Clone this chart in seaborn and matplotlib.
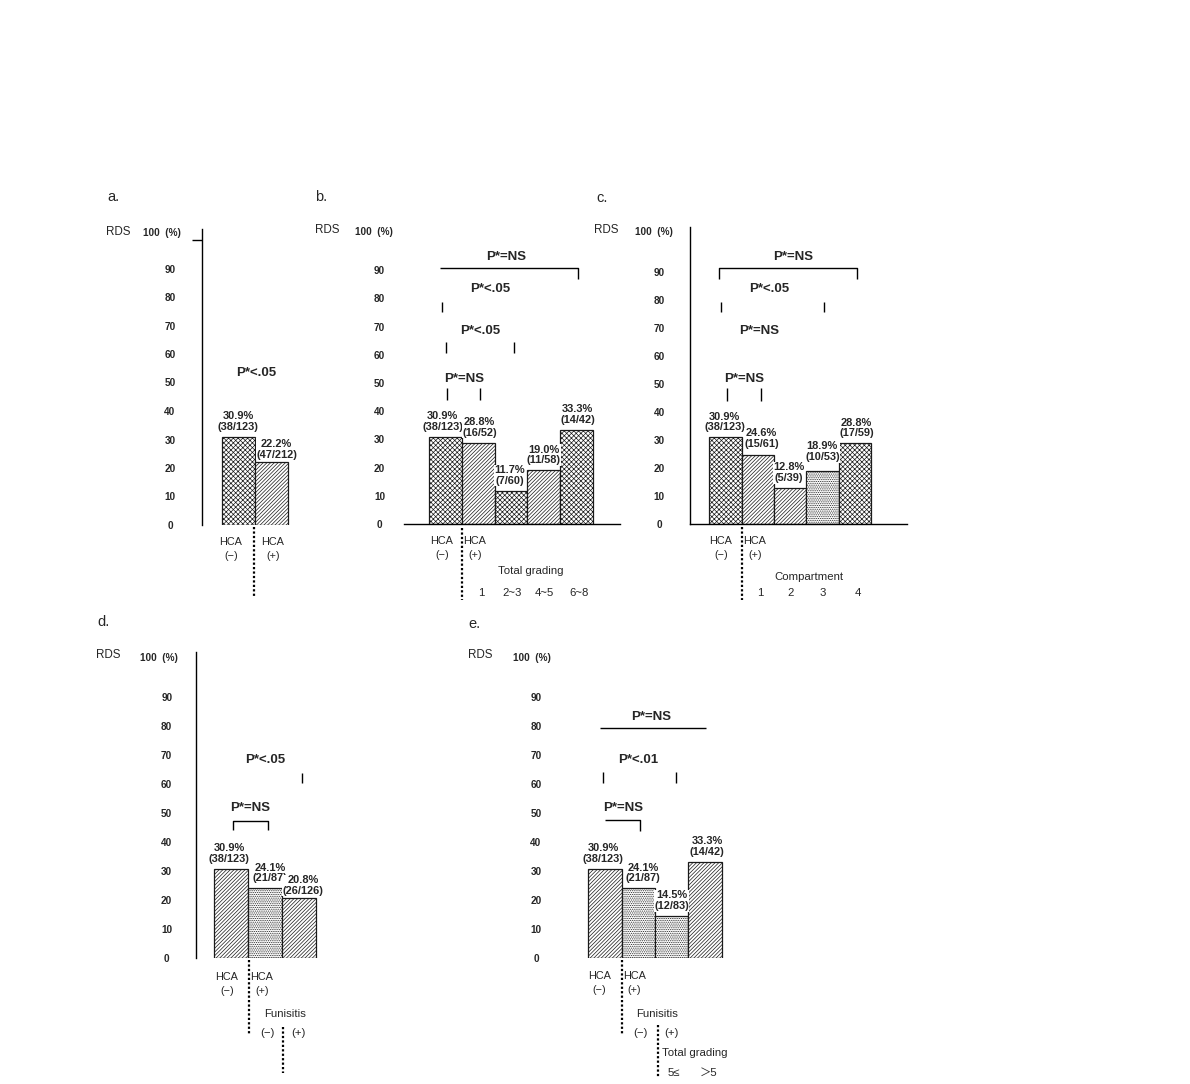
import matplotlib
matplotlib.use("Agg")
import matplotlib.pyplot as plt
import seaborn as sns
import pandas as pd

# ---------------- data ----------------
a_cats = ["HCA(−)", "HCA(+)"]
a_vals = [30.9, 22.2]
a_counts = ["38/123", "47/212"]

b_cats = ["HCA(−)", "1", "2~3", "4~5", "6~8"]
b_vals = [30.9, 28.8, 11.7, 19.0, 33.3]
b_counts = ["38/123", "16/52", "7/60", "11/58", "14/42"]

c_cats = ["HCA(−)", "1", "2", "3", "4"]
c_vals = [30.9, 24.6, 12.8, 18.9, 28.8]
c_counts = ["38/123", "15/61", "5/39", "10/53", "17/59"]

d_cats = ["HCA(−)", "Funisitis(−)", "Funisitis(+)"]
d_vals = [30.9, 24.1, 20.8]
d_counts = ["38/123", "21/87", "26/126"]

e_cats = ["HCA(−)", "Funisitis(−)", "5≤", "＞5"]
e_vals = [30.9, 24.1, 14.5, 33.3]
e_counts = ["38/123", "21/87", "12/83", "14/42"]

y_ticks = [0, 10, 20, 30, 40, 50, 60, 70, 80, 90]
y_ticklabels = ["0", "10", "20", "30", "40", "50", "60", "70", "80", "90"]

b_group_labels = ["1", "2~3", "4~5", "6~8"]
c_group_labels = ["1", "2", "3", "4"]
e_group_labels = ["5≤", "＞5"]

# ---------------- style ----------------
sns.set_style("white")
plt.rcParams["font.family"] = ["Liberation Sans", "DejaVu Sans", "Noto Sans CJK JP"]
plt.rcParams["hatch.linewidth"] = 0.5

W, H = 1190, 1084
PT = 72.0 / 100.0  # px -> points
fig = plt.figure(figsize=(W / 100, H / 100), dpi=100)
fig.patch.set_facecolor("white")

HX = "xxxxxxx"
HD = "/////////"
HP = "........."


def panel(cats, vals, counts, geom, hatches, dxs, dys, minor, show_left,
          show_bottom, tick_dir, pad_px):
    axl, axr, zero, scale, ytop, bl, bw = geom
    ax = fig.add_axes([axl / W, 1 - zero / H, (axr - axl) / W, ytop * scale / H])
    ax.set_facecolor("none")
    df = pd.DataFrame({"cat": cats, "val": vals})
    sns.barplot(data=df, x="cat", y="val", order=cats, ax=ax, width=1.0,
                color="white", saturation=1, edgecolor="#1a1a1a",
                linewidth=0.9, errorbar=None, zorder=2)
    for p, h in zip(ax.patches, hatches):
        p.set_hatch(h)
    ax.set_xlim(-0.5 - (bl - axl) / bw, -0.5 + (axr - bl) / bw)
    ax.set_ylim(0, ytop)
    ax.set_xlabel("")
    ax.set_ylabel("")
    ax.set_xticks([])
    for s in ["top", "right"]:
        ax.spines[s].set_visible(False)
    ax.spines["left"].set_visible(show_left)
    ax.spines["bottom"].set_visible(show_bottom)
    for s in ["left", "bottom"]:
        ax.spines[s].set_color("black")
        ax.spines[s].set_linewidth(1.0)
    ax.set_yticks(y_ticks)
    ax.set_yticklabels(y_ticklabels, fontsize=7.2, fontweight="bold")
    for lab in ax.get_yticklabels():
        lab.set_horizontalalignment("center")
    ax.tick_params(axis="y", which="major", length=0, pad=pad_px * PT, left=True)
    ax.set_yticks(minor, minor=True)
    ax.tick_params(axis="y", which="minor", length=7, width=1.0,
                   direction=tick_dir, color="black", left=True)
    for i, (v, c) in enumerate(zip(vals, counts)):
        ax.annotate(f"{v:.1f}%\n({c})", xy=(i, v),
                    xytext=(dxs[i] * PT, (5 + dys[i]) * PT),
                    textcoords="offset points", ha="center", va="bottom",
                    fontsize=7.9, fontweight="bold", linespacing=1.1,
                    bbox=dict(fc="white", ec="none", pad=0.3), zorder=3,
                    annotation_clip=False)
    return ax


# geometry: axis-left px, axis-right px, zero px, px per %, ylim top, first-bar-left px, bar width px
panel(a_cats, a_vals, a_counts, (202, 300, 525, 2.85, 104, 221.7, 33.3),
      [HX, HD], [0, 5], [0, -3], [10, 20, 30, 40, 50, 80, 90, 100],
      True, False, "out", 32)
panel(b_cats, b_vals, b_counts, (404, 620, 524, 2.82, 100, 429.3, 32.7),
      [HX, HD, HX, HD, HX], [-3, 1, -1, 0, 1],
      [0, 0, 0, 0, 0], [10, 20, 30, 50, 60, 70, 90], False, True, "in", 24.5)
panel(c_cats, c_vals, c_counts, (690, 907, 524, 2.8, 106, 709.3, 32.3),
      [HX, HD, HD, HP, HX], [-1, 4, -1, 0, 2],
      [0, 1, 0, 4, 0], [10, 20, 50, 60, 70, 90], True, True, "out", 30.7)
panel(d_cats, d_vals, d_counts, (196, 320, 958.3, 2.9, 105.7, 214.3, 33.9),
      [HD, HP, HD], [-2, 5, 4], [0, 0, -3],
      [10, 20, 30, 40, 50, 60, 70, 80, 90], True, False, "out", 29.3)
panel(e_cats, e_vals, e_counts, (561.7, 730, 958.3, 2.9, 100, 588.3, 33.35),
      [HD, HP, HP, HD], [-2, 4.6, 0, 2], [0, 0, 0, 0],
      [30, 50, 60, 70, 80, 90], False, False, "in", 25.7)

# ---------------- overlay annotations (pixel coordinates) ----------------
ov = fig.add_axes([0, 0, 1, 1])
ov.set_xlim(0, W)
ov.set_ylim(H, 0)
ov.axis("off")


def T(x, y, s, size=7.8, weight="normal", ha="center"):
    ov.text(x, y, s, fontsize=size, fontweight=weight, ha=ha, va="center")


def L(xs, ys, lw=1.0):
    ov.plot(xs, ys, color="black", lw=lw, solid_capstyle="butt")


def DOT(x, y0, y1):
    ov.plot([x, x], [y0, y1], color="black", lw=1.6, linestyle=(0, (1, 1)))


def P(x, y, s):
    T(x, y, s, size=9.5, weight="bold")


def HCA(xm, xp, y):
    T(xm, y, "HCA")
    T(xm, y + 14, "(−)")
    T(xp, y, "HCA")
    T(xp, y + 14, "(+)")


# panel a
T(107, 197, "a.", size=10.5, ha="left")
T(106, 232, "RDS", size=8.4, ha="left")
T(162, 233, "100  (%)", size=7.2, weight="bold")
P(256, 373, "P*<.05")
HCA(231, 273, 542)
DOT(254, 527, 598)

# panel b
T(315, 197, "b.", size=10.5, ha="left")
T(315, 230, "RDS", size=8.4, ha="left")
T(374, 232, "100  (%)", size=7.2, weight="bold")
P(506, 257, "P*=NS")
L([440, 578, 578], [268, 268, 279])
P(490, 289.5, "P*<.05")
L([441.7, 441.7], [302, 312])
P(480, 331, "P*<.05")
L([445.7, 445.7], [342, 353])
L([514.3, 514.3], [342, 353])
P(464, 378.7, "P*=NS")
L([446.7, 446.7], [388, 400])
L([480, 480], [388, 400])
HCA(441.7, 475, 541)
DOT(461.7, 528, 600)
T(531, 571, "Total grading", size=8.2)
for x, s in zip([481, 512, 544, 579], b_group_labels):
    T(x, 593, s, size=8.2)

# panel c
T(596, 198, "c.", size=10.5, ha="left")
T(594, 230, "RDS", size=8.4, ha="left")
T(654, 232, "100  (%)", size=7.2, weight="bold")
P(793, 257, "P*=NS")
L([719.3, 719.3, 856.7, 856.7], [279, 268, 268, 279])
P(769, 289.5, "P*<.05")
L([720.7, 720.7], [302, 312])
L([824, 824], [302, 312])
P(759, 331, "P*=NS")
P(744, 378.7, "P*=NS")
L([726.7, 726.7], [388, 400.7])
L([760.7, 760.7], [388, 400.7])
HCA(720.7, 755, 541)
DOT(742.3, 527, 600)
T(809, 577.5, "Compartment", size=8.2)
for x, s in zip([760, 791, 822.7, 858.3], c_group_labels):
    T(x, 593.5, s, size=8.2)

# panel d
T(97, 622, "d.", size=10.5, ha="left")
T(96, 655, "RDS", size=8.4, ha="left")
T(159, 658, "100  (%)", size=7.2, weight="bold")
P(265, 760, "P*<.05")
L([302.3, 302.3], [772.7, 782.7])
P(250, 808, "P*=NS")
L([232.7, 232.7, 267.7, 267.7], [830, 820.7, 820.7, 830])
HCA(226.7, 261.7, 976.7)
DOT(249, 960, 1035)
T(285, 1014, "Funisitis", size=8.2)
T(267.7, 1032.7, "(−)", size=8.2)
T(298.3, 1032.7, "(+)", size=8.2)
DOT(283.3, 1026.7, 1073.3)

# panel e
T(468, 624, "e.", size=10.5, ha="left")
T(468, 655, "RDS", size=8.4, ha="left")
T(532, 658, "100  (%)", size=7.2, weight="bold")
P(650.7, 717.3, "P*=NS")
L([600, 705.7], [727.7, 727.7])
P(638.3, 760, "P*<.01")
L([603.3, 603.3], [771.7, 782.7])
L([675.7, 675.7], [771.7, 782.7])
P(623.3, 808.3, "P*=NS")
L([605, 640.3, 640.3], [820, 820, 830.7])
HCA(599.3, 634.3, 976)
DOT(621.7, 960, 1035)
T(657, 1014, "Funisitis", size=8.2)
T(640.7, 1032.7, "(−)", size=8.2)
T(671.7, 1032.7, "(+)", size=8.2)
DOT(658.3, 1025, 1076.7)
T(695, 1052.7, "Total grading", size=8.2)
for x, s in zip([674.3, 708.3], e_group_labels):
    T(x, 1072.7, s, size=8.2)

fig.savefig("out.png", dpi=100, facecolor="white")
